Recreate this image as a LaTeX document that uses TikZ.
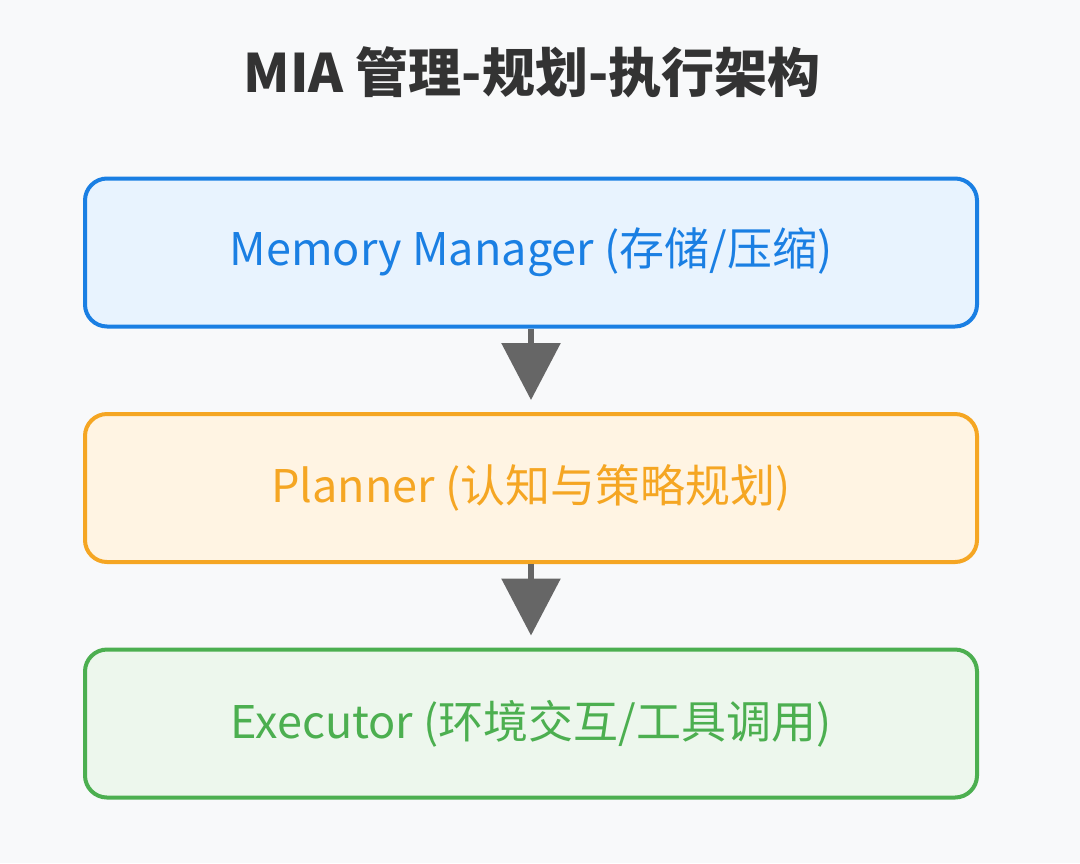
\documentclass[tikz,border=0pt]{standalone}
\usepackage{fontspec}
\setmainfont{Noto Sans CJK SC}
\usetikzlibrary{arrows.meta, positioning}

\definecolor{bgcol}{HTML}{F8F9FA}
\definecolor{memline}{HTML}{1A7FE3}
\definecolor{memfill}{HTML}{E8F3FE}
\definecolor{planline}{HTML}{F5A623}
\definecolor{planfill}{HTML}{FFF4E3}
\definecolor{execline}{HTML}{4CAF50}
\definecolor{execfill}{HTML}{EDF7ED}
\definecolor{arrowcol}{HTML}{666666}
\definecolor{titlecol}{HTML}{333333}

\begin{document}
\begin{tikzpicture}[
    node distance=41.75pt,
    layer/.style={
        rectangle,
        line width=2pt,
        rounded corners=11pt,
        minimum width=446pt,
        minimum height=74pt,
        align=center,
        font=\fontsize{22.5}{26}\selectfont
    },
    arrow/.style={
        line width=3pt,
        draw=arrowcol,
        -{Triangle[length=28.5pt,width=29pt]},
        shorten >=6pt
    }
]
    % Background
    \fill [bgcol] (0,0) rectangle (540pt,-431.5pt);
    \useasboundingbox (0,0) rectangle (540pt,-431.5pt);

    % Title
    \node [font=\fontsize{26.5}{30}\selectfont\bfseries, text=titlecol] (title) at (266pt,-36pt) {MIA 管理-规划-执行架构};

    % Nodes
    \node [layer, draw=memline, fill=memfill, text=memline] (memory) at (265.5pt,-126.25pt) {Memory Manager (存储/压缩)};
    \node [layer, draw=planline, fill=planfill, text=planline, below=of memory] (planner) {Planner (认知与策略规划)};
    \node [layer, draw=execline, fill=execfill, text=execline, below=of planner] (executor) {Executor (环境交互/工具调用)};

    % Arrows
    \draw [arrow] (memory) -- (planner);
    \draw [arrow] (planner) -- (executor);
\end{tikzpicture}
\end{document}
